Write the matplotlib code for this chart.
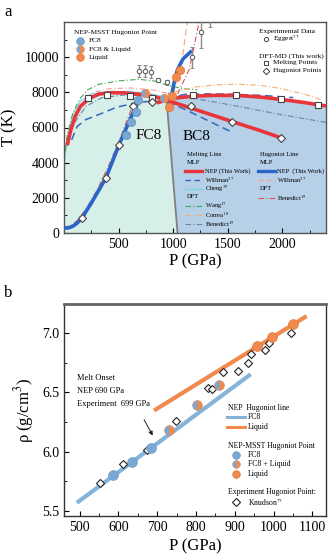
import numpy as np
import matplotlib
matplotlib.use("Agg")
import matplotlib.pyplot as plt
from matplotlib.ticker import MultipleLocator, FormatStrFormatter

plt.rcParams['font.family'] = ['Liberation Serif', 'DejaVu Serif']
plt.rcParams['mathtext.fontset'] = 'stix'

# ---------------- panel a data ----------------
# NEP melting line, FC8 branch (incl. metastable continuation)
melt_fc8_P = [30, 60, 100, 150, 230, 320, 420, 550, 700, 850, 1000, 1200, 1540, 1780, 1980]
melt_fc8_T = [5000, 5800, 6600, 7200, 7650, 7900, 7980, 7970, 7880, 7720, 7430, 7030, 6340, 5860, 5430]
# NEP melting line, BC8 branch
melt_bc8_P = [850, 950, 1050, 1200, 1400, 1600, 1800, 2000, 2200, 2400]
melt_bc8_T = [7400, 7580, 7700, 7790, 7830, 7820, 7730, 7590, 7420, 7230]
# phase region boundaries
fc8_fill_P = [0, 30, 60, 100, 150, 230, 320, 420, 550, 700, 850, 940]
fc8_fill_T = [4000, 5000, 5800, 6600, 7200, 7650, 7900, 7980, 7970, 7880, 7720, 7550]
phase_bnd_P = [940, 1040]
phase_bnd_T = [7550, 0]
# Willman MLP melting lines
willman_m1_P = [70, 120, 200, 320, 477, 650, 800, 950, 1100, 1300, 1550]
willman_m1_T = [5300, 6060, 6450, 6740, 7140, 7400, 7500, 7450, 7050, 6450, 5700]
willman_m2_P = [950, 1100, 1300, 1500, 1800, 2100]
willman_m2_T = [7650, 7880, 7910, 7900, 7830, 7700]
# Cheng MLP
cheng_P = [0, 30, 80, 150, 250, 400, 600, 800, 950]
cheng_T = [4000, 5400, 6700, 7500, 7900, 8050, 8050, 7900, 7700]
# Wang DFT
wang_P = [0, 30, 80, 140, 220, 320, 500, 690, 845, 950, 1100, 1220]
wang_T = [4000, 5600, 6800, 7600, 8150, 8460, 8650, 8740, 8630, 8400, 8200, 8150]
# Correa DFT
correa1_P = [80, 150, 250, 400, 600, 800, 950]
correa1_T = [6000, 7300, 7950, 8200, 8250, 8150, 7950]
correa2_P = [1000, 1200, 1400, 1600, 1800, 2000, 2200, 2350]
correa2_T = [8000, 8300, 8430, 8460, 8400, 8200, 7900, 7600]
# Benedict DFT melting
bened_m1_P = [100, 200, 350, 550, 750, 950]
bened_m1_T = [6300, 7200, 7700, 7850, 7800, 7600]
bened_m2_P = [950, 1200, 1600, 2000, 2400]
bened_m2_T = [7950, 7650, 7200, 6720, 6290]
# NEP Hugoniot
hug1_P = [0, 40, 80, 120, 165, 250, 385, 505, 580, 640, 690]
hug1_T = [280, 290, 380, 560, 860, 1700, 3140, 5030, 6100, 6950, 7550]
hug2_P = [985, 1010, 1040, 1090, 1160]
hug2_T = [7800, 8600, 9300, 9900, 10300]
# Willman Hugoniot
willman_h1_P = [0, 60, 120, 200, 300, 400, 500, 580, 650]
willman_h1_T = [300, 330, 600, 1200, 2250, 3550, 5000, 6200, 7200]
willman_h2_P = [1000, 1083, 1130]
willman_h2_T = [7900, 9900, 12050]
# Benedict Hugoniot
bened_h1_P = [0, 60, 120, 200, 300, 400, 500, 570, 640]
bened_h1_T = [350, 400, 700, 1350, 2400, 3700, 5150, 6300, 7400]
bened_h2_P = [1040, 1147, 1240]
bened_h2_T = [7900, 9300, 12050]
# NEP-MSST Hugoniot points
msst_fc8_P = [570, 615, 660, 680]
msst_fc8_T = [5600, 6300, 6900, 7550]
msst_mix_P = [740, 920]
msst_mix_T = [7950, 7700]
msst_liq_P = [963, 990, 1030, 1060]
msst_liq_T = [7140, 7780, 8900, 9250]
# Eggert experiment
eggert_P = [690, 745, 800, 865, 940, 1175, 1257, 1340]
eggert_T = [9200, 9200, 9150, 8700, 8560, 10000, 11430, 12600]
eggert_err = [350, 350, 350, 120, 120, 600, 900, 900]
# DFT-MD (this work)
dft_melt_P = [220, 395, 605, 807, 1183, 1578, 1990, 2330]
dft_melt_T = [7650, 7830, 7770, 7660, 7830, 7830, 7600, 7260]
dft_hug_P = [165, 385, 505, 630, 810, 1165, 1541, 1990]
dft_hug_T = [860, 3140, 5030, 7200, 7450, 7200, 6340, 5430]

# ---------------- panel b data ----------------
rho_fc8_P = [493, 941]
rho_fc8_R = [5.568, 6.653]
rho_liq_P = [692, 1085]
rho_liq_R = [6.347, 7.144]
b_fc8_P = [587, 636, 684]
b_fc8_R = [5.80, 5.915, 6.03]
b_mix_P = [731, 803, 859]
b_mix_R = [6.18, 6.39, 6.56]
b_liq_P = [956, 995, 1049]
b_liq_R = [6.89, 6.966, 7.076]
knud_P = [553, 611, 673, 749, 831, 842, 869, 907, 935, 941, 979, 989, 1046]
knud_R = [5.737, 5.90, 6.017, 6.26, 6.54, 6.525, 6.67, 6.68, 6.75, 6.82, 6.856, 6.915, 7.0]

C_RED = '#e8353b'
C_BLUE = '#2a66c9'
C_FC8 = '#7ba7d4'
C_LIQ = '#f08a4e'
C_MINT = '#d6efe9'
C_BC8 = '#b6d0e8'

fig = plt.figure(figsize=(3.28, 5.58), dpi=100)

# ================= panel a =================
ax = fig.add_axes([64/328, 1-233/558, 262/328, 211/558])
ax.set_xlim(0, 2400)
ax.set_ylim(0, 12000)

# region fills
ax.fill(fc8_fill_P + [phase_bnd_P[1], 0], fc8_fill_T + [0, 0], color=C_MINT, lw=0, zorder=0)
bc8_P = [phase_bnd_P[0]] + [p for p in melt_bc8_P if p > phase_bnd_P[0]]
bc8_T = [phase_bnd_T[0]] + [t for p, t in zip(melt_bc8_P, melt_bc8_T) if p > phase_bnd_P[0]]
ax.fill(bc8_P + [2400, phase_bnd_P[1]], bc8_T + [0, 0], color=C_BC8, lw=0, zorder=0)
ax.plot(phase_bnd_P, phase_bnd_T, color='#808080', lw=1.3, zorder=1)

# literature lines
ax.plot(cheng_P, cheng_T, color='#7fd6e3', lw=0.9, zorder=2)
ax.plot(wang_P, wang_T, color='#3ea95a', lw=0.8, ls=(0, (5, 2, 1, 2)), zorder=2)
ax.plot(correa1_P, correa1_T, color='#f4a3a0', lw=0.8, ls=(0, (5, 2, 1, 2)), zorder=2)
ax.plot(correa2_P, correa2_T, color='#f0b070', lw=0.8, ls=(0, (5, 2, 1, 2)), zorder=2)
ax.plot(bened_m1_P, bened_m1_T, color='#6d7fae', lw=0.8, ls=(0, (5, 2, 1, 2)), zorder=2)
ax.plot(bened_m2_P, bened_m2_T, color='#6d7fae', lw=0.8, ls=(0, (5, 2, 1, 2)), zorder=2)
ax.plot(willman_m1_P, willman_m1_T, color='#3565c0', lw=1.1, ls=(0, (5, 3)), zorder=2)
ax.plot(willman_m2_P, willman_m2_T, color='#3565c0', lw=1.1, ls=(0, (5, 3)), zorder=2)
ax.plot(willman_h1_P, willman_h1_T, color='#f5a88a', lw=0.9, ls=(0, (5, 3)), zorder=2)
ax.plot(willman_h2_P, willman_h2_T, color='#f5a88a', lw=0.9, ls=(0, (5, 3)), zorder=2)
ax.plot(bened_h1_P, bened_h1_T, color='#d9534f', lw=0.8, ls=(0, (5, 2, 1, 2)), zorder=2)
ax.plot(bened_h2_P, bened_h2_T, color='#d9534f', lw=0.8, ls=(0, (5, 2, 1, 2)), zorder=2)

# NEP lines
ax.plot(melt_fc8_P, melt_fc8_T, color=C_RED, lw=2.6, zorder=3, solid_capstyle='butt')
ax.plot(melt_bc8_P, melt_bc8_T, color=C_RED, lw=2.6, zorder=3, solid_capstyle='butt')
ax.plot(hug1_P, hug1_T, color=C_BLUE, lw=2.6, zorder=3)
ax.plot(hug2_P, hug2_T, color=C_BLUE, lw=2.6, zorder=3)

# points
ax.errorbar(eggert_P, eggert_T, yerr=eggert_err, fmt='o', ms=3.2, mfc='white', mec='#555555',
            mew=0.7, ecolor='#8a8a8a', elinewidth=1.0, capsize=1.5, zorder=4)
ax.plot(dft_melt_P, dft_melt_T, 's', ms=4, mfc='white', mec='#444444', mew=0.8, ls='none', zorder=5)
ax.plot(dft_hug_P, dft_hug_T, 'D', ms=3.6, mfc='white', mec='#444444', mew=0.8, ls='none', zorder=5)
ax.plot(msst_fc8_P, msst_fc8_T, 'o', ms=6, mfc=C_FC8, mec='#5f8fc0', mew=0.5, ls='none', zorder=6)
ax.plot(msst_mix_P, msst_mix_T, 'o', ms=6, fillstyle='left', mfc=C_FC8, markerfacecoloralt=C_LIQ,
        mec='#d09070', mew=0.5, ls='none', zorder=6)
ax.plot(msst_liq_P, msst_liq_T, 'o', ms=6, mfc=C_LIQ, mec='#e07838', mew=0.5, ls='none', zorder=6)

ax.text(780, 5540, 'FC8', fontsize=11, ha='center', va='center', zorder=7)
ax.text(1211, 5490, 'BC8', fontsize=11, ha='center', va='center', zorder=7)

ax.set_xticks([500, 1000, 1500, 2000])
ax.set_yticks([0, 2000, 4000, 6000, 8000, 10000])
ax.xaxis.set_minor_locator(MultipleLocator(250))
ax.yaxis.set_minor_locator(MultipleLocator(1000))
ax.tick_params(which='both', direction='in', labelsize=10, top=False, right=False)
ax.tick_params(which='major', length=3.5)
ax.tick_params(which='minor', length=2)
for s in ax.spines.values():
    s.set_color('#555555')
    s.set_linewidth(1.0)
ax.set_xlabel('P (GPa)', fontsize=12, labelpad=2)
ax.set_ylabel('T (K)', fontsize=12, labelpad=5)

T = ax.transAxes
fs1 = 5.3
# upper-left legend
ax.text(0.038, 0.948, 'NEP-MSST Hugoniot Point', transform=T, fontsize=fs1, va='center', zorder=8)
ax.plot([0.061], [0.910], 'o', ms=5.5, mfc=C_FC8, mec='#5f8fc0', mew=0.5, transform=T, clip_on=False, zorder=8)
ax.plot([0.061], [0.872], 'o', ms=5.5, fillstyle='left', mfc=C_FC8, markerfacecoloralt=C_LIQ,
        mec='#d09070', mew=0.5, transform=T, clip_on=False, zorder=8)
ax.plot([0.061], [0.834], 'o', ms=5.5, mfc=C_LIQ, mec='#e07838', mew=0.5, transform=T, clip_on=False, zorder=8)
for y, s in zip([0.910, 0.872, 0.834], ['FC8', 'FC8 & Liquid', 'Liquid']):
    ax.text(0.095, y, s, transform=T, fontsize=fs1, va='center', zorder=8)
# upper-right legend
ax.text(0.744, 0.957, 'Experimental Data', transform=T, fontsize=fs1, va='center')
ax.plot([0.771], [0.919], 'o', ms=3, mfc='white', mec='#444444', mew=0.7, transform=T)
ax.text(0.798, 0.919, 'Eggert$^{77}$', transform=T, fontsize=fs1, va='center')
ax.text(0.744, 0.839, 'DFT-MD (This work)', transform=T, fontsize=fs1, va='center')
ax.plot([0.771], [0.806], 's', ms=3.5, mfc='white', mec='#444444', mew=0.7, transform=T)
ax.text(0.798, 0.806, 'Melting Points', transform=T, fontsize=fs1, va='center')
ax.plot([0.771], [0.768], 'D', ms=3.3, mfc='white', mec='#444444', mew=0.7, transform=T)
ax.text(0.798, 0.768, 'Hugoniot Points', transform=T, fontsize=fs1, va='center')
# lower-right legend
fs2 = 4.7
ax.text(0.469, 0.370, 'Melting Line', transform=T, fontsize=fs2, va='center', zorder=8)
ax.text(0.469, 0.336, 'MLP', transform=T, fontsize=fs2, va='center', zorder=8)
ax.text(0.469, 0.171, 'DFT', transform=T, fontsize=fs2, va='center', zorder=8)
col1 = [(0.294, C_RED, 2.4, '-', 'NEP (This Work)'),
        (0.251, '#3565c0', 1.0, (0, (4, 2.5)), 'Willman$^{27}$'),
        (0.210, '#7fd6e3', 1.0, '-', 'Cheng$^{39}$'),
        (0.128, '#3ea95a', 0.8, (0, (5, 2, 1, 2)), 'Wang$^{17}$'),
        (0.085, '#f0b070', 0.8, (0, (5, 2, 1, 2)), 'Correa$^{18}$'),
        (0.043, '#6d7fae', 0.8, (0, (5, 2, 1, 2)), 'Benedict$^{19}$')]
for y, c, lw, ls, s in col1:
    ax.plot([0.462, 0.527], [y, y], color=c, lw=lw, ls=ls, transform=T, zorder=8)
    ax.text(0.538, y, s, transform=T, fontsize=fs2, va='center', zorder=8)
ax.text(0.748, 0.370, 'Hugoniot Line', transform=T, fontsize=fs2, va='center', zorder=8)
ax.text(0.748, 0.336, 'MLP', transform=T, fontsize=fs2, va='center', zorder=8)
ax.text(0.748, 0.209, 'DFT', transform=T, fontsize=fs2, va='center', zorder=8)
col2 = [(0.294, C_BLUE, 2.4, '-', 'NEP  (This Work)'),
        (0.251, '#f5a88a', 0.9, (0, (4, 2.5)), 'Willman$^{27}$'),
        (0.168, '#d9534f', 0.8, (0, (5, 2, 1, 2)), 'Benedict$^{19}$')]
for y, c, lw, ls, s in col2:
    ax.plot([0.740, 0.805], [y, y], color=c, lw=lw, ls=ls, transform=T, zorder=8)
    ax.text(0.813, y, s, transform=T, fontsize=fs2, va='center', zorder=8)

# ================= panel b =================
bx = fig.add_axes([64/328, 1-516/558, 262/328, 212/558])
bx.set_xlim(460, 1135)
bx.set_ylim(5.457, 7.246)
bx.plot(rho_fc8_P, rho_fc8_R, color='#85b4da', lw=3, solid_capstyle='butt', zorder=2)
bx.plot(rho_liq_P, rho_liq_R, color='#f28a4e', lw=3, solid_capstyle='butt', zorder=2)
bx.plot(knud_P, knud_R, 'D', ms=4.2, mfc='white', mec='#222222', mew=0.8, ls='none', zorder=3)
bx.plot(b_fc8_P, b_fc8_R, 'o', ms=7, mfc=C_FC8, mec='#6a9acb', mew=0.5, ls='none', zorder=4)
bx.plot(b_mix_P, b_mix_R, 'o', ms=7, fillstyle='left', mfc=C_FC8, markerfacecoloralt=C_LIQ,
        mec='#d09070', mew=0.5, ls='none', zorder=4)
bx.plot(b_liq_P, b_liq_R, 'o', ms=7, mfc=C_LIQ, mec='#e07838', mew=0.5, ls='none', zorder=4)

bx.annotate('', xy=(692, 6.115), xytext=(663, 6.29),
            arrowprops=dict(arrowstyle='-|>', color='#222222', lw=0.7, mutation_scale=6))
B = bx.transAxes
for y, s in zip([0.651, 0.590, 0.528], ['Melt Onset', 'NEP 690 GPa', 'Experiment  699 GPa']):
    bx.text(0.050, y, s, transform=B, fontsize=6, va='center')

fs3 = 5.6
bx.text(0.626, 0.509, 'NEP  Hugoniot line', transform=B, fontsize=fs3, va='center')
bx.plot([0.622, 0.691], [0.467, 0.467], color='#85b4da', lw=2.2, transform=B)
bx.text(0.702, 0.467, 'FC8', transform=B, fontsize=fs3, va='center')
bx.plot([0.622, 0.691], [0.420, 0.420], color='#f28a4e', lw=2.2, transform=B)
bx.text(0.702, 0.420, 'Liquid', transform=B, fontsize=fs3, va='center')
bx.text(0.626, 0.330, 'NEP-MSST Hugoniot Point', transform=B, fontsize=fs3, va='center')
bx.plot([0.656], [0.288], 'o', ms=5.5, mfc=C_FC8, mec='#6a9acb', mew=0.5, transform=B)
bx.plot([0.656], [0.245], 'o', ms=5.5, fillstyle='left', mfc=C_FC8, markerfacecoloralt=C_LIQ,
        mec='#d09070', mew=0.5, transform=B)
bx.plot([0.656], [0.198], 'o', ms=5.5, mfc=C_LIQ, mec='#e07838', mew=0.5, transform=B)
for y, s in zip([0.288, 0.245, 0.198], ['FC8', 'FC8 + Liquid', 'Liquid']):
    bx.text(0.702, y, s, transform=B, fontsize=fs3, va='center')
bx.text(0.626, 0.113, 'Experiment Hugoniot Point:', transform=B, fontsize=fs3, va='center')
bx.plot([0.656], [0.066], 'D', ms=3.6, mfc='white', mec='#222222', mew=0.8, transform=B)
bx.text(0.702, 0.066, 'Knudson$^{77}$', transform=B, fontsize=fs3, va='center')

bx.set_xticks([500, 600, 700, 800, 900, 1000, 1100])
bx.set_yticks([5.5, 6.0, 6.5, 7.0])
bx.yaxis.set_major_formatter(FormatStrFormatter('%.1f'))
bx.xaxis.set_minor_locator(MultipleLocator(50))
bx.yaxis.set_minor_locator(MultipleLocator(0.25))
bx.tick_params(which='both', direction='in', labelsize=10, top=False, right=False)
bx.tick_params(which='major', length=3.5)
bx.tick_params(which='minor', length=2)
for s in bx.spines.values():
    s.set_color('#333333')
    s.set_linewidth(1.0)
bx.spines['top'].set_color('#666666')
bx.spines['top'].set_linewidth(2.0)
bx.set_xlabel('P (GPa)', fontsize=12, labelpad=3)
bx.set_ylabel('ρ (g/cm$^3$)', fontsize=12, labelpad=4)

fig.text(4/328, 1-12/558, 'a', fontsize=12, va='center', ha='left')
fig.text(4/328, 1-293/558, 'b', fontsize=12, va='center', ha='left')

fig.savefig('out.png', dpi=100)
